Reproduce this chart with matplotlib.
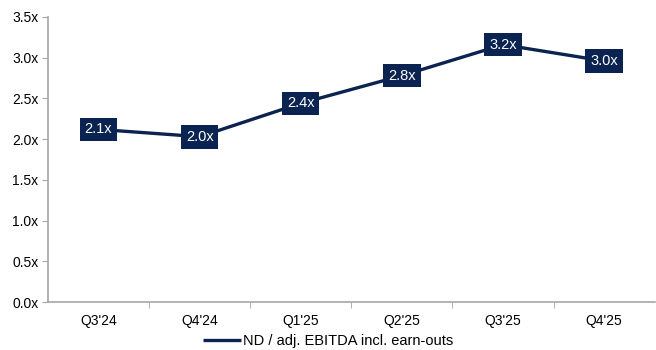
import matplotlib.pyplot as plt
from matplotlib.ticker import FixedLocator, FuncFormatter

quarters = ["Q3'24", "Q4'24", "Q1'25", "Q2'25", "Q3'25", "Q4'25"]
leverage = [2.12, 2.03, 2.44, 2.78, 3.16, 2.96]

navy = "#0b2350"
grey = "#a6a6a6"

plt.rcParams["font.family"] = ["Liberation Sans", "DejaVu Sans"]

fig = plt.figure(figsize=(6.56, 3.5), dpi=100)
ax = fig.add_axes([48 / 656, 1 - 302 / 350, 1 - 48 / 656 - 0.002, (302 - 17) / 350])

x = list(range(len(quarters)))
line, = ax.plot(x, leverage, color=navy, lw=2.4, solid_capstyle="butt",
                label="ND / adj. EBITDA incl. earn-outs")
for xi, v in zip(x, leverage):
    ax.text(xi, v, f"{v:.1f}x", ha="center", va="center", color="white", fontsize=10.5,
            bbox=dict(boxstyle="square,pad=0.33", fc=navy, ec="none"), zorder=5)

ax.set_xlim(-0.5, len(quarters) - 0.5)
ax.set_ylim(0, 3.5)
ax.set_yticks([i * 0.5 for i in range(8)])
ax.yaxis.set_major_formatter(FuncFormatter(lambda v, p: f"{v:.1f}x"))
ax.set_xticks(x)
ax.set_xticklabels(quarters)
ax.xaxis.set_minor_locator(FixedLocator([i + 0.5 for i in range(len(quarters) - 1)]))
ax.tick_params(axis="x", which="major", length=0, pad=9, labelsize=10)
ax.tick_params(axis="x", which="minor", length=4, color=grey, direction="out")
ax.tick_params(axis="y", length=4, color=grey, labelsize=10, pad=3)

for s in ["top", "right"]:
    ax.spines[s].set_visible(False)
for s in ["left", "bottom"]:
    ax.spines[s].set_color(grey)
    ax.spines[s].set_linewidth(1.2)

fig.legend(handles=[line], loc="center", bbox_to_anchor=(0.5, 1 - 341 / 350),
           frameon=False, fontsize=10.5, handlelength=2.6, handletextpad=0.1)

fig.savefig("out.png", dpi=100)
